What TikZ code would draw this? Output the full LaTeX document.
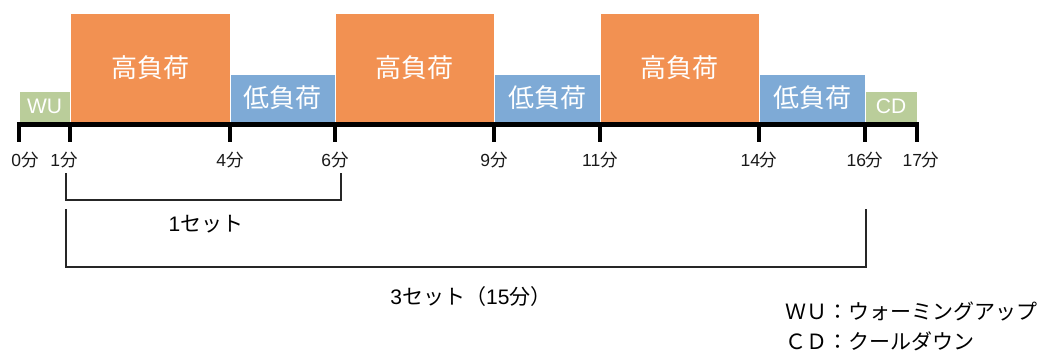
\documentclass[tikz,border=0pt]{standalone}
\usepackage{fontspec}
\setmainfont{Liberation Sans}
\newfontfamily\jp{Noto Sans CJK JP}
\definecolor{hiload}{HTML}{F29152}
\definecolor{loload}{HTML}{7EAAD6}
\definecolor{wucd}{HTML}{BACD9A}
\begin{document}
\begin{tikzpicture}[x=1bp,y=-1bp,
  bar/.style={draw=white,line width=0.6bp,inner sep=0pt,text=white,anchor=center},
  jpbar/.style={bar,font=\jp\fontsize{26bp}{28bp}\selectfont},
  tick/.style={line width=4.5bp},
  ticklabel/.style={font=\fontsize{17.5bp}{18bp}\selectfont,inner sep=0pt,text=black!90},
  bracket/.style={line width=1.6bp,black!85},
  setlabel/.style={font=\fontsize{21bp}{24bp}\selectfont,inner sep=0pt},
  legend/.style={font=\jp\fontsize{21bp}{24bp}\selectfont,inner sep=0pt,anchor=west}]
\useasboundingbox (0,0) rectangle (1046,358);
% bars
\node[bar,fill=wucd,minimum width=51bp,minimum height=31bp,font=\fontsize{21bp}{24bp}\selectfont] (wu) at (44.5,106.5) {WU};
\node[jpbar,fill=hiload,minimum width=160bp,minimum height=109bp] (h1) at (150,67.5) {高負荷};
\node[jpbar,fill=loload,minimum width=105bp,minimum height=48bp] (l1) at (282.5,98) {低負荷};
\node[jpbar,fill=hiload,minimum width=159bp,minimum height=109bp] (h2) at (414.5,67.5) {高負荷};
\node[jpbar,fill=loload,minimum width=106bp,minimum height=48bp] (l2) at (547,98) {低負荷};
\node[jpbar,fill=hiload,minimum width=159bp,minimum height=109bp] (h3) at (679.5,67.5) {高負荷};
\node[jpbar,fill=loload,minimum width=106bp,minimum height=48bp] (l3) at (812,98) {低負荷};
\node[bar,fill=wucd,minimum width=52bp,minimum height=31bp,font=\fontsize{21bp}{24bp}\selectfont] (cd) at (891,106.5) {CD};
% axis
\draw[line width=4.5bp] (16.75,124.5) -- (919.25,124.5);
\foreach \x/\n in {19/t0,70/t1,230/t4,335/t6,494/t9,600/t11,759/t14,865/t16,917/t17}{
  \coordinate (\n) at (\x,142);
  \draw[tick] (\x,122.5) -- (\n);
}
% tick labels
\node[ticklabel] (lab0) at (25,160) {0{\jp 分}};
\node[ticklabel] (lab1) at (64,160) {1{\jp 分}};
\node[ticklabel] (lab4) at (230,160) {4{\jp 分}};
\node[ticklabel] (lab6) at (335,160) {6{\jp 分}};
\node[ticklabel] (lab9) at (494,160) {9{\jp 分}};
\node[ticklabel] (lab11) at (600,160) {11{\jp 分}};
\node[ticklabel] (lab14) at (759,160) {14{\jp 分}};
\node[ticklabel] (lab16) at (865,160) {16{\jp 分}};
\node[ticklabel] (lab17) at (921,160) {17{\jp 分}};
% brackets
\coordinate (b1a) at (66,173);
\coordinate (b1b) at (341,173);
\draw[bracket] (b1a) |- (341,200) -- (b1b);
\node[setlabel] (set1) at (206,224) {1{\jp セット}};
\coordinate (b2a) at (66,209);
\coordinate (b2b) at (866,209);
\draw[bracket] (b2a) |- (866,267) -- (b2b);
\node[setlabel] (set3) at (471,297) {3{\jp セット（}15{\jp 分）}};
% legend
\node[legend] (leg1) at (785,311) {ＷＵ：ウォーミングアップ};
\node[legend] (leg2) at (785,341) {ＣＤ：クールダウン};
\end{tikzpicture}
\end{document}
